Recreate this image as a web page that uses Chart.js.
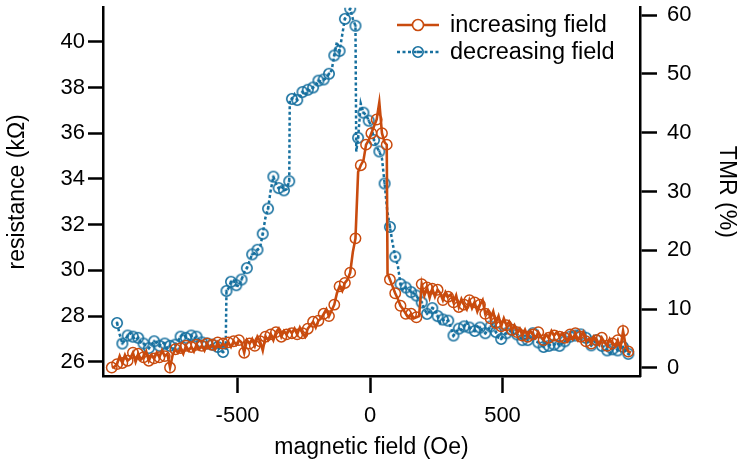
<!DOCTYPE html>
<html>
<head>
<meta charset="utf-8">
<script src="https://cdn.jsdelivr.net/npm/chart.js@4.4.1/dist/chart.umd.min.js"></script>
<style>
html, body { margin: 0; padding: 0; background: #fff; }
</style>
</head>
<body>
<canvas id="chart" width="737" height="466"></canvas>
<script>
// increasing field sweep (Oe, kOhm)
const incField = [
  -975,-965,-955,-945,-935,-925,-915,-905,-895,-885,-875,-865,-855,-845,-835,-825,-815,-805,-795,-785,-775,-765,-755,-745,-735,-725,-715,-705,-695,-685,-675,-665,-655,-645,-635,-625,-615,-605,-595,-585,-575,-565,-555,-545,
  -535,-525,-515,-505,-495,-485,-475,-465,-455,-445,-435,-425,-415,-405,-395,-385,-375,-365,-355,-345,-335,-325,-315,-305,-295,-285,-275,-265,-255,-245,-235,-225,-215,-205,-195,-185,-175,-165,-155,-145,-135,-125,-115,-105,-95,-85,-75,-65,-55,
  -45,-35,-25,-15,-5,5,15,25,35,45,55,63,66,
  75,85,95,105,115,125,135,145,155,165,175,185,195,205,215,225,235,245,255,265,275,285,295,305,315,325,335,345,355,365,375,385,395,405,415,425,435,445,455,465,475,485,495,505,515,525,535,545,555,565,575,585,595,605,615,625,635,645,655,665,675,685,695,705,715,725,735,745,755,765,775,785,795,805,815,825,835,845,855,865,875,885,895,905,915,925,935,945,955,965,975,985
];
const incR = [
  25.75,25.78,25.9,26.25,25.95,26.3,26.05,26.15,26.4,26.0,26.35,26.1,26.2,26.45,26.05,26.3,26.15,26.4,26.2,26.5,26.25,26.35,25.75,26.3,26.55,26.4,26.6,26.35,26.7,26.5,26.65,26.45,26.75,26.55,26.7,26.5,26.8,26.6,26.75,26.55,26.85,26.65,26.8,26.7,
  26.85,26.65,26.9,26.75,26.95,26.85,26.4,26.95,26.8,27.0,26.7,27.1,26.9,26.5,27.1,26.95,27.2,26.95,27.3,27.45,27.1,27.35,27.2,27.4,27.25,27.45,27.2,27.5,27.25,27.1,27.45,27.6,27.75,27.5,27.8,27.9,28.1,28.3,28.0,28.25,28.5,29.0,29.3,29.1,29.45,29.6,29.9,30.8,31.4,
  34.3,34.6,34.8,35.5,35.7,36.0,36.3,36.6,37.35,36.0,35.6,35.5,29.85,
  29.6,29.3,29.0,28.75,28.45,28.3,28.1,27.95,28.1,27.9,27.95,28.0,29.4,28.9,29.25,28.8,29.2,28.85,29.15,29.0,28.7,29.05,28.85,28.95,28.6,28.9,28.4,28.75,28.5,28.3,28.7,28.35,28.6,28.2,28.5,28.7,28.1,28.25,27.9,28.2,27.7,28.0,27.55,27.9,27.6,27.75,27.4,27.6,27.3,27.45,27.15,27.4,27.1,27.35,27.2,27.05,27.3,27.1,26.95,27.2,27.05,27.35,27.15,27.3,27.1,27.25,27.05,26.9,27.2,27.0,27.25,26.95,27.1,27.3,26.9,27.0,26.8,27.1,26.95,26.75,27.05,26.85,26.7,27.0,26.8,26.7,26.95,26.6,27.35,26.7,26.45,26.4
];

// decreasing field sweep (Oe, kOhm)
const decField = [
  -955,-945,-935,-925,-915,-905,-895,-885,-875,-865,-855,-845,-835,-825,-815,-805,-795,-785,-775,-765,-755,-745,-735,-725,-715,-705,-695,-685,-675,-665,-655,-645,-635,-625,-615,-605,-595,-585,-575,-565,-555,-545,-542,
  -535,-525,-515,-505,-495,-485,-475,-465,-455,-445,-435,-425,-415,-405,-395,-385,-375,-365,-355,-345,-335,-325,-315,-305,-303,
  -295,-285,-275,-265,-255,-245,-235,-225,-215,-205,-195,-185,-175,-165,-155,-145,-135,-125,-115,-105,-95,-85,-75,-65,-55,-52,
  -45,-35,-25,-15,-5,5,15,25,35,45,55,65,75,85,95,105,115,125,135,145,155,165,175,185,195,205,215,225,235,245,255,265,275,285,295,305,315,325,335,345,355,365,375,385,395,405,415,425,435,445,455,465,475,485,495,505,515,525,535,545,555,565,575,585,595,605,615,625,635,645,655,665,675,685,695,705,715,725,735,745,755,765,775,785,795,805,815,825,835,845,855,865,875,885,895,905,915,925,935,945,955,965,975,981
];
const decR = [
  27.7,27.2,26.8,26.95,27.15,27.25,27.1,26.95,27.05,26.85,26.8,26.7,26.6,26.75,26.9,26.85,26.7,26.85,26.8,26.6,26.7,26.5,26.75,26.9,27.1,27.25,27.05,26.95,27.15,27.0,27.1,26.95,26.85,26.95,26.8,26.7,26.75,26.6,26.65,26.5,26.43,26.5,29.1,
  29.2,29.5,29.55,29.35,29.3,29.6,29.9,30.1,30.4,30.7,30.75,30.9,31.0,31.6,32.3,32.7,33.5,34.1,33.8,33.6,33.7,33.5,33.55,33.9,37.5,
  37.5,37.7,37.45,37.6,37.8,37.65,37.9,37.85,38.0,38.1,38.3,38.25,38.35,38.4,38.6,38.75,39.4,40.0,39.6,40.3,41.0,41.2,41.45,41.0,40.7,35.2,
  35.8,37.3,36.9,36.8,36.55,36.3,35.7,35.4,35.2,34.9,33.8,32.6,31.9,31.2,30.6,30.2,29.4,29.1,29.25,29.2,29.05,29.0,28.9,28.7,28.6,28.3,28.1,28.2,28.35,28.3,28.0,27.7,27.85,27.75,27.8,27.5,27.15,27.3,27.45,27.4,27.55,27.74,27.5,27.4,27.35,27.55,27.5,27.35,27.25,27.4,27.55,27.7,27.3,27.05,27.0,27.2,27.25,27.3,27.4,27.15,27.2,27.1,26.95,27.0,26.95,27.1,27.25,26.9,26.85,26.75,26.65,26.8,26.7,26.8,26.75,26.85,26.7,26.8,26.9,26.95,27.1,27.05,27.15,27.0,27.2,27.25,27.05,26.9,26.72,26.85,26.95,26.8,26.7,26.6,26.5,26.37,26.55,26.65,26.5,26.6,26.65,26.5,26.35,26.3
];

const seriesNames = ['increasing field', 'decreasing field'];
const fieldTicks = [-500, 0, 500];
const resTicks = [26, 28, 30, 32, 34, 36, 38, 40];
const tmrTicks = [0, 10, 20, 30, 40, 50, 60];

const R0 = 25.73; // resistance for 0 % TMR
const fieldMin = -1008, fieldMax = 1019;
const resMin = 25.38, resMax = 41.49;

const FONT = "'Liberation Sans', Arial, Helvetica, sans-serif";
const orange = '#c94b0e';
const blue = '#17709f';

function dotCircle(color) {
    let c = document.createElement('canvas');
    c.width = 14; c.height = 14;
    let g = c.getContext('2d');
    g.strokeStyle = color;
    g.lineWidth = 1.6;
    g.beginPath(); g.arc(7, 7, 5.2, 0, Math.PI * 2); g.stroke();
    g.fillStyle = color;
    g.beginPath(); g.arc(7, 7, 1.4, 0, Math.PI * 2); g.fill();
    return c;
}
const blueMarker = dotCircle(blue);

// every second point carries a marker
const markerRadius = (ctx) => (ctx.dataIndex % 2 === 0 ? 5.2 : 0);

const legendPlugin = {
    id: 'fieldLegend',
    afterDatasetsDraw(chart) {
        const ctx = chart.ctx;
        chart.data.datasets.forEach((ds, i) => {
            const y = 25 + i * 27;
            ctx.save();
            ctx.strokeStyle = ds.borderColor;
            ctx.lineWidth = ds.borderWidth;
            ctx.setLineDash(ds.borderDash || []);
            ctx.beginPath();
            ctx.moveTo(397, y);
            ctx.lineTo(439, y);
            ctx.stroke();
            ctx.setLineDash([]);
            if (i === 0) {
                ctx.fillStyle = '#fff';
                ctx.lineWidth = 1.6;
                ctx.beginPath(); ctx.arc(418, y, 5.5, 0, Math.PI * 2); ctx.fill(); ctx.stroke();
            } else {
                ctx.drawImage(blueMarker, 418 - 7, y - 7);
            }
            ctx.fillStyle = '#000';
            ctx.font = '23.5px ' + FONT;
            ctx.textBaseline = 'middle';
            ctx.fillText(ds.label, 450, y + 1);
            ctx.restore();
        });
    }
};

const axisGrid = (len) => ({ drawOnChartArea: false, drawTicks: true, tickLength: len, tickWidth: 2.5, tickColor: '#000' });
const axisBorder = { display: true, color: '#000', width: 2.5 };

new Chart(document.getElementById('chart'), {
    type: 'line',
    data: {
        datasets: [
            {
                label: seriesNames[0],
                data: incField.map((h, i) => ({ x: h, y: incR[i] })),
                borderColor: orange,
                borderWidth: 2.6,
                tension: 0,
                pointStyle: 'circle',
                pointRadius: markerRadius,
                pointBorderColor: orange,
                pointBackgroundColor: 'rgba(0,0,0,0)',
                pointBorderWidth: 1.5,
                yAxisID: 'y'
            },
            {
                label: seriesNames[1],
                data: decField.map((h, i) => ({ x: h, y: decR[i] })),
                borderColor: blue,
                borderWidth: 2.5,
                borderDash: [3, 2.5],
                tension: 0,
                pointStyle: blueMarker,
                pointRadius: markerRadius,
                yAxisID: 'y'
            }
        ]
    },
    options: {
        responsive: false,
        animation: false,
        layout: { padding: { top: 5, left: 0, right: 0, bottom: 0 } },
        plugins: { legend: { display: false }, tooltip: { enabled: false } },
        scales: {
            x: {
                type: 'linear',
                min: fieldMin,
                max: fieldMax,
                afterBuildTicks: (s) => { s.ticks = fieldTicks.map(v => ({ value: v })); },
                afterFit: (s) => { s.height = 90; s.paddingLeft = 0; s.paddingRight = 0; },
                grid: axisGrid(17),
                border: axisBorder,
                ticks: { color: '#000', font: { family: FONT, size: 22 }, padding: 10, maxRotation: 0 },
                title: { display: true, text: 'magnetic field (Oe)', color: '#000', font: { family: FONT, size: 23 }, padding: { top: 0, bottom: 5 } }
            },
            y: {
                type: 'linear',
                position: 'left',
                min: resMin,
                max: resMax,
                afterBuildTicks: (s) => { s.ticks = resTicks.map(v => ({ value: v })); },
                afterFit: (s) => { s.width = 103; s.paddingTop = 0; s.paddingBottom = 0; },
                grid: axisGrid(15),
                border: axisBorder,
                ticks: { color: '#000', font: { family: FONT, size: 22 }, padding: 3 },
                title: { display: true, text: 'resistance (kΩ)', color: '#000', font: { family: FONT, size: 23 }, padding: { top: 4, bottom: 0 } }
            },
            y1: {
                type: 'linear',
                position: 'right',
                min: (resMin / R0 - 1) * 100,
                max: (resMax / R0 - 1) * 100,
                afterBuildTicks: (s) => { s.ticks = tmrTicks.map(v => ({ value: v })); },
                afterFit: (s) => { s.width = 97; s.paddingTop = 0; s.paddingBottom = 0; },
                grid: axisGrid(17),
                border: axisBorder,
                ticks: { color: '#000', font: { family: FONT, size: 22 }, padding: 10 },
                title: { display: true, text: 'TMR (%)', color: '#000', font: { family: FONT, size: 23, lineHeight: 0.9 }, padding: { top: 0, bottom: 0 } }
            }
        }
    },
    plugins: [legendPlugin]
});
</script>
</body>
</html>
